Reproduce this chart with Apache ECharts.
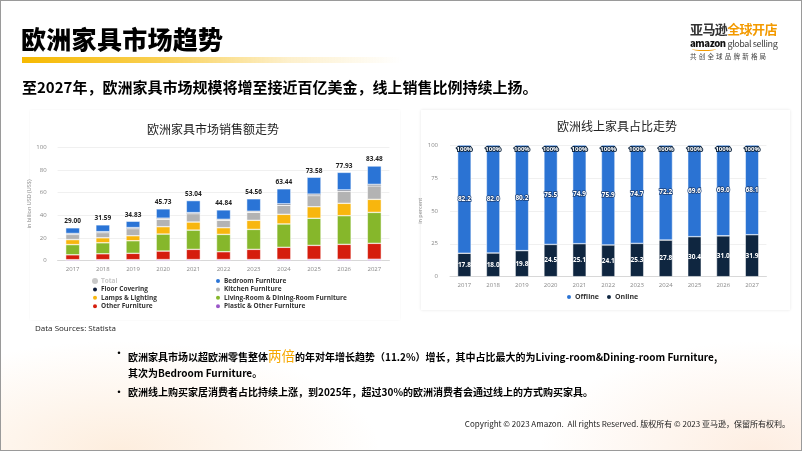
<!DOCTYPE html>
<html><head><meta charset="utf-8">
<script src="https://cdn.jsdelivr.net/npm/echarts@6/dist/echarts.min.js"></script>
<style>
html,body{margin:0;padding:0;}
body{width:802px;height:451px;position:relative;overflow:hidden;background:#fff;font-family:"Noto Sans CJK SC","Noto Sans",sans-serif;}
#frame{position:absolute;left:0;top:0;width:800px;height:449px;border:1px solid #9a9a9a;pointer-events:none;z-index:5;}
#deco{position:absolute;left:0;top:0;width:802px;height:451px;
 background:radial-gradient(ellipse 260px 110px at 120px 451px, rgba(250,205,160,0.35), rgba(255,255,255,0) 100%),
 radial-gradient(ellipse 220px 110px at 760px 451px, rgba(250,205,170,0.35), rgba(255,255,255,0) 100%);}
.card{position:absolute;background:#fff;box-shadow:0 0 3px rgba(0,0,0,0.10);}
#chart{position:absolute;left:0;top:0;width:802px;height:451px;}
.t{position:absolute;white-space:nowrap;color:#000;}
</style></head>
<body>
<div id="deco"></div>
<div class="card" style="left:30px;top:110px;width:370px;height:210px;box-shadow:0 0 2px rgba(0,0,0,0.05);"></div>
<div class="card" style="left:421px;top:110px;width:369px;height:200px;"></div>
<div id="chart"></div>
<div id="frame"></div>
<div class="t" style="left:21px;top:20px;font-size:25px;font-weight:900;letter-spacing:0.3px;">欧洲家具市场趋势</div>
<div style="position:absolute;left:22px;top:57px;width:380px;height:6px;background:linear-gradient(90deg,#f6b900 0%,#f9cf50 35%,rgba(252,230,170,0.6) 70%,rgba(255,255,255,0) 100%);"></div>
<div class="t" style="left:22px;top:76px;font-size:15px;font-weight:bold;">至2027年，欧洲家具市场规模将增至接近百亿美金，线上销售比例持续上扬。</div>
<div class="t" style="left:690px;top:19px;font-size:13px;font-weight:bold;letter-spacing:-0.6px;"><span style="color:#333">亚马逊</span><span style="color:#f39a00">全球开店</span></div>
<div class="t" style="left:690px;top:36px;font-size:9.5px;letter-spacing:-0.4px;"><span style="font-weight:900;color:#111">amazon</span> <span style="color:#444;font-size:9px;">global selling</span></div>
<div style="position:absolute;left:692px;top:47px;width:24px;height:3px;border-bottom:1.5px solid #f39a00;border-radius:0 0 50% 50%;"></div>
<div class="t" style="left:690px;top:51px;font-size:6.5px;color:#444;letter-spacing:2.2px;">共创全球品牌新格局</div>
<div class="t" style="left:35px;top:322px;font-size:8px;color:#222;font-family:'Open Sans',sans-serif;">Data Sources: Statista</div>
<div class="t" style="left:114px;top:345px;font-size:10px;font-weight:bold;">•</div>
<div class="t" style="left:128px;top:345px;font-size:10px;font-weight:bold;">欧洲家具市场以超欧洲零售整体<span style="color:#f6a800;font-size:13.5px;font-weight:normal;">两倍</span>的年对年增长趋势（11.2%）增长，其中占比最大的为Living-room&amp;Dining-room Furniture,</div>
<div class="t" style="left:128px;top:365px;font-size:10px;font-weight:bold;">其次为Bedroom Furniture。</div>
<div class="t" style="left:114px;top:384px;font-size:10px;font-weight:bold;">•</div>
<div class="t" style="left:128px;top:384px;font-size:10px;font-weight:bold;">欧洲线上购买家居消费者占比持续上涨，到2025年，超过30%的欧洲消费者会通过线上的方式购买家具。</div>
<div class="t" style="right:12px;top:418px;font-size:8px;color:#222;">Copyright © 2023 Amazon.&nbsp; All rights Reserved. 版权所有 © 2023 亚马逊，保留所有权利。</div>
<script>
// ---- data ----
const years = ['2017','2018','2019','2020','2021','2022','2023','2024','2025','2026','2027'];
const totals = [29.00,31.59,34.83,45.73,53.04,44.84,54.56,63.44,73.58,77.93,83.48];
const plasticOther = [0.9,0.9,0.9,1.0,1.0,1.0,1.0,1.1,1.2,1.2,1.3];
const otherFurniture = [4.3,5.2,5.6,7.5,9.0,6.9,9.0,10.7,12.3,13.2,14.0];
const livingDining = [9.0,9.7,11.1,15.0,17.0,15.3,17.6,20.6,23.9,25.3,27.3];
const lampsLighting = [4.4,4.4,4.4,6.5,7.1,5.9,8.0,8.5,10.2,10.9,11.5];
const kitchen = [4.6,4.6,6.3,6.6,7.4,6.6,7.1,8.0,9.9,10.6,11.9];
const floorCovering = [0.8,0.8,0.9,0.9,0.9,0.8,0.9,1.2,1.2,1.2,1.3];
const bedroom = [5.0,6.0,5.6,8.2,10.6,8.3,11.0,13.3,14.9,15.5,16.2];
const leftTicks = [0,20,40,60,80,100];

const offline = [82.2,82.0,80.2,75.5,74.9,75.9,74.7,72.2,69.6,69.0,68.1];
const online = [17.8,18.0,19.8,24.5,25.1,24.1,25.3,27.8,30.4,31.0,31.9];
const rightTicks = [0,25,50,75,100];

const C = {bed:'#2a74d6',floor:'#0f1d3b',kit:'#b3b3b3',lamp:'#f8b60e',liv:'#86b72b',oth:'#d51d0d',pla:'#9a57c8',off:'#2b73d3',on:'#0f2640'};
const axisLbl = {color:'#888',fontSize:6,fontFamily:'Open Sans'};

const chart = echarts.init(document.getElementById('chart'), null, {renderer:'canvas'});
function seg(name, data, color, extra){
  return Object.assign({name, type:'bar', stack:'a', xAxisIndex:0, yAxisIndex:0, data, barWidth:14,
    itemStyle:{color, borderColor:'#fff', borderWidth:0.5}, emphasis:{disabled:true}}, extra||{});
}
const legText = {fontSize:6.5,fontWeight:'bold',color:'#333',fontFamily:'Open Sans',padding:[0,0,0,-2],lineHeight:8};
const option = {
  animation:false,
  title:[
    {text:'欧洲家具市场销售额走势', left:208, top:118, textAlign:'center', textStyle:{fontSize:12,fontWeight:'normal',color:'#222',fontFamily:'Noto Sans CJK SC'}},
    {text:'欧洲线上家具占比走势', left:612, top:115, textAlign:'center', textStyle:{fontSize:12,fontWeight:'normal',color:'#222',fontFamily:'Noto Sans CJK SC'}}
  ],
  legend:[
    {data:['Total','Floor Covering','Lamps & Lighting','Other Furniture'], orient:'vertical', left:91, top:277, itemGap:0.4, itemWidth:6, itemHeight:6, icon:'circle', padding:0,
     selected:{'Total':false}, inactiveColor:'#c8c8c8', textStyle:legText},
    {data:['Bedroom Furniture','Kitchen Furniture','Living-Room & Dining-Room Furniture','Plastic & Other Furniture'], orient:'vertical', left:214, top:277, itemGap:0.4, itemWidth:6, itemHeight:6, icon:'circle', padding:0,
     textStyle:legText},
    {data:['Offline','Online'], orient:'horizontal', left:565, top:293, itemGap:6, itemWidth:6, itemHeight:6, icon:'circle', padding:0,
     textStyle:{fontSize:7,fontWeight:'bold',color:'#333',fontFamily:'Open Sans',padding:[0,0,0,-2]}}
  ],
  grid:[
    {left:57.6, right:412.6, top:147.3, bottom:190.3},
    {left:450, right:35.6, top:145, bottom:174.3}
  ],
  xAxis:[
    {type:'category', gridIndex:0, data:years, axisTick:{show:false}, axisLine:{lineStyle:{color:'#d8d8d8'}}, axisLabel:Object.assign({margin:6},axisLbl)},
    {type:'category', gridIndex:1, data:years, axisTick:{show:false}, axisLine:{lineStyle:{color:'#d8d8d8'}}, axisLabel:Object.assign({margin:6},axisLbl)}
  ],
  yAxis:[
    {type:'value', gridIndex:0, min:leftTicks[0], max:leftTicks[leftTicks.length-1], interval:20, axisLabel:Object.assign({margin:11},axisLbl),
     splitLine:{lineStyle:{color:'#ececec',width:0.8}}, name:'in billion USD (US$)', nameLocation:'middle', nameGap:22, nameRotate:90,
     nameTextStyle:{fontSize:5.5,color:'#888',fontFamily:'Open Sans'}},
    {type:'value', gridIndex:1, min:rightTicks[0], max:rightTicks[rightTicks.length-1], interval:25, axisLabel:Object.assign({margin:12},axisLbl),
     splitLine:{lineStyle:{color:'#ececec',width:0.8}}, name:'in percent', nameLocation:'middle', nameGap:21, nameRotate:90,
     nameTextStyle:{fontSize:5.5,color:'#888',fontFamily:'Open Sans'}}
  ],
  series:[
    {name:'Total', type:'bar', xAxisIndex:0, yAxisIndex:0, data:[], itemStyle:{color:'#c8c8c8'}},
    seg('Plastic & Other Furniture', plasticOther, C.pla),
    seg('Other Furniture', otherFurniture, C.oth),
    seg('Living-Room & Dining-Room Furniture', livingDining, C.liv),
    seg('Lamps & Lighting', lampsLighting, C.lamp),
    seg('Kitchen Furniture', kitchen, C.kit),
    seg('Floor Covering', floorCovering, C.floor),
    seg('Bedroom Furniture', bedroom, C.bed, {label:{show:true, position:'top', distance:3, formatter:p=>totals[p.dataIndex].toFixed(2),
      fontSize:6.5, fontWeight:'bold', color:'#222', fontFamily:'Open Sans'}}),
    {name:'Online', type:'bar', stack:'b', xAxisIndex:1, yAxisIndex:1, data:online, barWidth:13.5,
     itemStyle:{color:C.on, borderColor:'#fff', borderWidth:0.5},
     label:{show:true, position:'inside', formatter:p=>p.value.toFixed(1), fontSize:6.5, color:'#fff', fontFamily:'Open Sans', fontWeight:'bold'}},
    {name:'Offline', type:'bar', stack:'b', xAxisIndex:1, yAxisIndex:1, data:offline, barWidth:13.5,
     itemStyle:{color:C.off, borderColor:'#fff', borderWidth:0.5},
     label:{show:true, position:'inside', formatter:p=>p.value.toFixed(1), fontSize:6.5, color:'#fff', textBorderColor:'#1b3f75', textBorderWidth:1.5, fontFamily:'Open Sans', fontWeight:'bold'}},
    {name:'Offline', type:'bar', stack:'c', xAxisIndex:1, yAxisIndex:1, data:offline.map((v,i)=>v+online[i]), barWidth:13.5, barGap:'-100%',
     itemStyle:{color:'rgba(0,0,0,0)'}, silent:true,
     label:{show:true, position:'insideTop', distance:1, formatter:p=>Math.round(p.value)+'%', fontSize:6, color:'#fff', textBorderColor:'#0f2640', textBorderWidth:2, fontFamily:'Open Sans', fontWeight:'bold'}}
  ]
};
chart.setOption(option);
</script>
</body></html>
